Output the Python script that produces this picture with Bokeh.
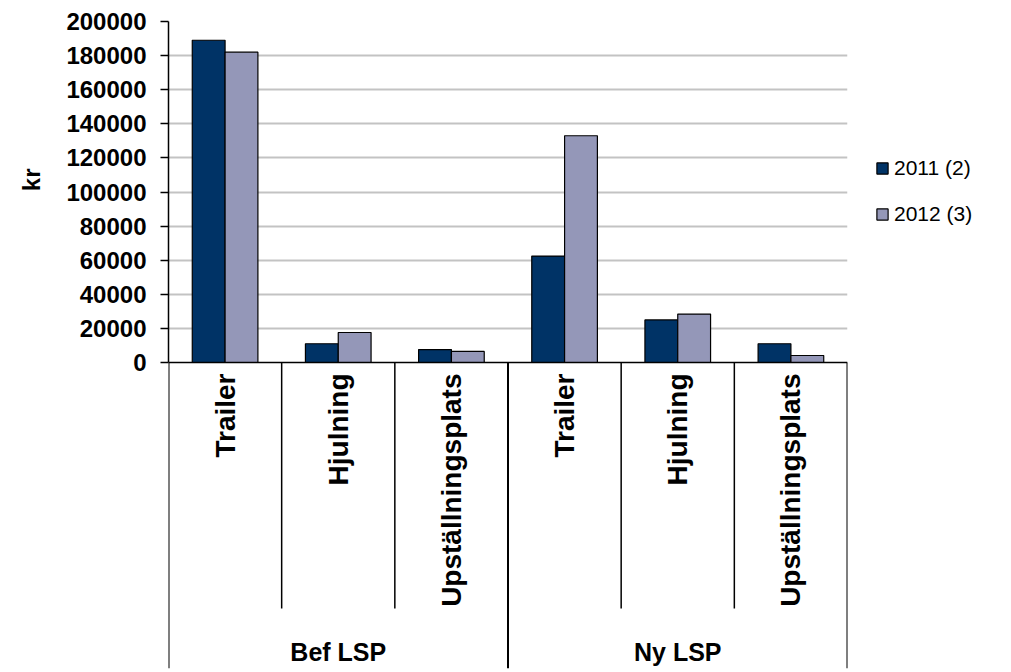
import numpy as np
from bokeh.plotting import figure
from bokeh.models import (FactorRange, Range1d, ColumnDataSource, FixedTicker, Legend,
                          LegendItem, BasicTickFormatter, Span, Title)
from bokeh.transform import dodge
from bokeh.core.properties import value
from bokeh.embed import file_html
from bokeh.resources import INLINE

# ---- data ----
groups = ["Bef LSP", "Ny LSP"]
categories = ["Trailer", "Hjulning", "Upställningsplats"]
series_names = ["2011 (2)", "2012 (3)"]
values_2011 = [189000, 11000, 7600, 62400, 25000, 11000]
values_2012 = [182000, 17600, 6500, 133000, 28400, 4100]
y_ticks = [0, 20000, 40000, 60000, 80000, 100000, 120000, 140000, 160000, 180000, 200000]
y_label = "kr"

# ---- style ----
C2011 = "#003366"
C2012 = "#9497b8"
FONT = value("Liberation Sans")

factors = [(g, c) for g in groups for c in categories]
n = len(factors)

Y_MAX = y_ticks[-1]
PLOT_PX = 341           # pixels between 0 and the top tick
BELOW_PX = 306          # label area below zero
PX = Y_MAX / PLOT_PX    # data units per pixel
y_start = -BELOW_PX * PX

p = figure(x_range=FactorRange(*factors, factor_padding=0, group_padding=0, range_padding=0),
           y_range=Range1d(y_start, Y_MAX),
           frame_width=679, frame_height=PLOT_PX + BELOW_PX,
           min_border_left=168, min_border_top=21, min_border_bottom=4, min_border_right=164,
           output_backend="svg", toolbar_location=None)
p.outline_line_color = None
p.background_fill_color = "white"
p.border_fill_color = "white"

src = ColumnDataSource(dict(x=factors, y2011=values_2011, y2012=values_2012))
r1 = p.vbar(x=dodge("x", -0.145, range=p.x_range), top="y2011", width=0.29, source=src,
            fill_color=C2011, line_color="black", line_width=1.2)
r2 = p.vbar(x=dodge("x", 0.145, range=p.x_range), top="y2012", width=0.29, source=src,
            fill_color=C2012, line_color="black", line_width=1.2)

# axes
p.xaxis.visible = False
p.xgrid.visible = False
ya = p.yaxis[0]
ya.ticker = FixedTicker(ticks=y_ticks)
ya.bounds = (0, Y_MAX)
ya.formatter = BasicTickFormatter(use_scientific=False)
ya.major_label_text_font = "Liberation Sans"
ya.major_label_text_font_style = "bold"
ya.major_label_text_font_size = "24px"
ya.major_label_text_color = "black"
ya.major_tick_in = 0
ya.major_tick_out = 8
ya.minor_tick_line_color = None
ya.axis_line_color = "black"
ya.axis_line_width = 1.5
ya.major_tick_line_width = 1.5
ya.major_label_standoff = 14

# y-axis title placed level with the middle of the value scale
ytitle = Title(text=y_label, align="right", offset=147, standoff=33, vertical_align="top",
               text_font="Liberation Sans", text_font_style="bold",
               text_font_size="24px", text_color="black")
p.add_layout(ytitle, "left")

p.ygrid.ticker = FixedTicker(ticks=y_ticks[1:])
p.ygrid.grid_line_color = "#c3c3c3"
p.ygrid.grid_line_width = 2

# zero line
p.add_layout(Span(location=0, dimension="width", line_color="black", line_width=1.5))

# separators below the axis
inner = [i for i in range(1, n) if i % len(categories) != 0]
outer = [i for i in range(0, n + 1) if i % len(categories) == 0]
p.segment(x0=inner, x1=inner, y0=[0] * len(inner), y1=[-246 * PX] * len(inner),
          line_color="black", line_width=1.5)
p.segment(x0=outer, x1=outer, y0=[0] * len(outer), y1=[y_start] * len(outer),
          line_color="black", line_width=2)

# category labels
p.text(x=factors, y=[0] * n, text=[c for _, c in factors], angle=np.pi / 2,
       text_align="right", text_baseline="middle", y_offset=11,
       text_font=FONT, text_font_style="bold", text_font_size="28px", text_color="black")
# group labels
p.text(x=groups, y=[0] * len(groups), text=groups, y_offset=289,
       text_align="center", text_baseline="middle",
       text_font=FONT, text_font_style="bold", text_font_size="25px", text_color="black")

legend = Legend(items=[LegendItem(label=series_names[0], renderers=[r1]),
                       LegendItem(label=series_names[1], renderers=[r2])],
                location=(28, 442), orientation="vertical")
legend.border_line_color = None
legend.background_fill_alpha = 0
legend.label_text_font = "Liberation Sans"
legend.label_text_font_size = "21px"
legend.label_text_color = "black"
legend.glyph_width = 14
legend.glyph_height = 14
legend.label_height = 21
legend.spacing = 22
legend.label_standoff = 5
legend.padding = 0
legend.margin = 0
p.add_layout(legend, "right")

open("out.html", "w").write(file_html(p, INLINE))
